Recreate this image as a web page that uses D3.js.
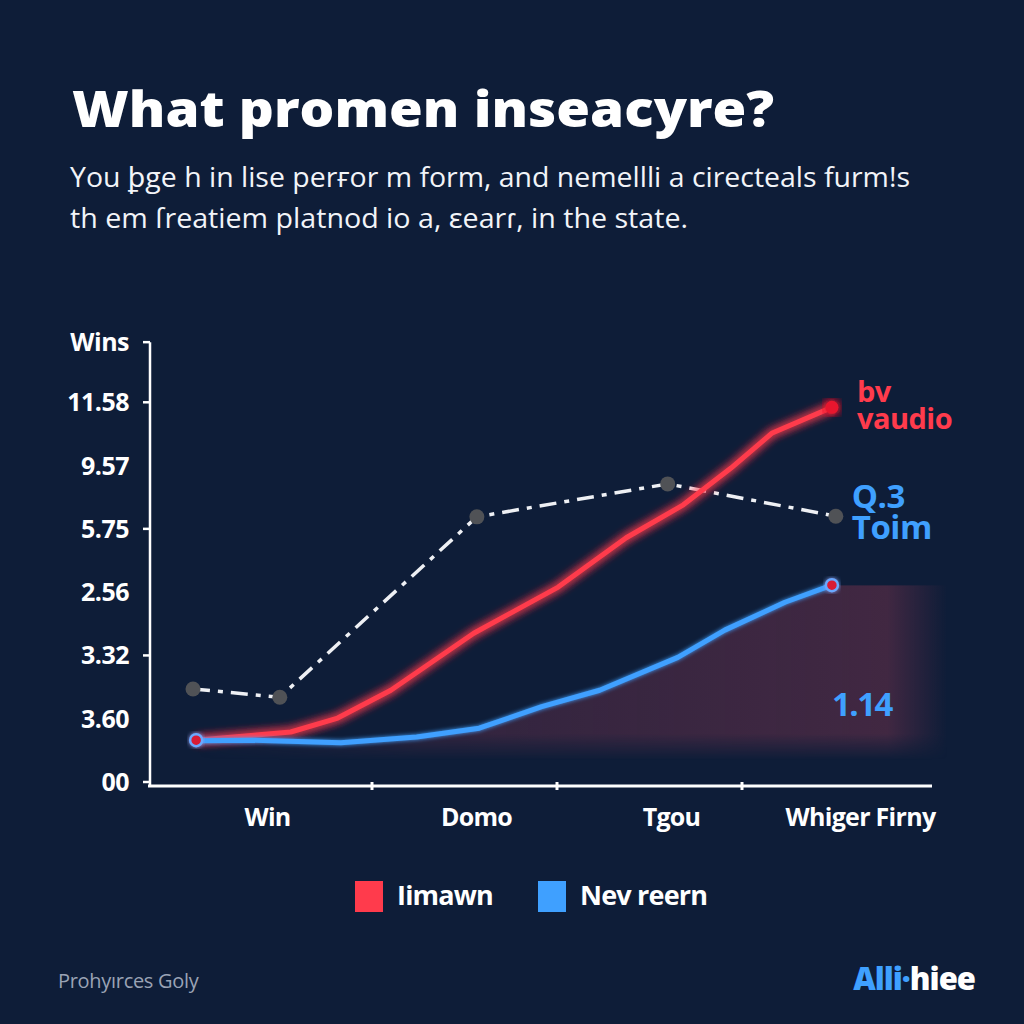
<!DOCTYPE html>
<html><head><meta charset="utf-8">
<script src="https://cdn.jsdelivr.net/npm/d3@7"></script>
<style>
html,body{margin:0;padding:0;background:#0e1d38;}
svg{display:block;}
text{font-family:"Open Sans","Noto Sans",sans-serif;}
</style></head>
<body><svg id="c" width="1024" height="1024"></svg>
<script>
// ---- data ----
const title = "What promen inseacyre?";
const subtitleLines = ["You ꝧge h in lise perғor m form, and nemellli a cirecteals furm!s", "th em ſreatiem platnod io a, ɛearɾ, in the state."];
const yAxisTitle = "Wins";
const yTickLabels = ["00", "3.60", "3.32", "2.56", "5.75", "9.57", "11.58"];
const categories = ["Win", "Domo", "Tgou", "Whiger Firny"];
const legendLabels = ["Iimawn", "Nev reern"];
const redX = [5.9, 18.0, 24.0, 30.8, 41.4, 52.2, 60.9, 68.2, 74.3, 79.5, 87.2];
const redY = [0.66, 0.79, 1.01, 1.45, 2.35, 3.08, 3.86, 4.38, 4.96, 5.51, 5.92];
const blueX = [5.9, 13.4, 24.4, 34.1, 42.1, 50.1, 57.5, 67.5, 73.5, 81.2, 87.2];
const blueY = [0.65, 0.66, 0.62, 0.71, 0.85, 1.19, 1.45, 1.97, 2.40, 2.84, 3.11];
const dashX = [5.5, 16.6, 41.8, 66.2, 87.7];
const dashY = [1.47, 1.34, 4.19, 4.71, 4.20];
const areaBase = 0.35;
const areaEndX = 102;
const redLabel = ["bv", "vaudio"];
const blueLabel = ["Q.3", "Toim"];
const areaLabel = "1.14";
const footerLeft = "Prohyırces Goly";
const brandA = "Alli", brandDot = "·", brandB = "hiee";

// ---- colours ----
const RED = "#ff3b4c", BLUE = "#3fa0ff", BG = "#0e1d38";

const svg = d3.select("#c");
svg.append("rect").attr("width",1024).attr("height",1024).attr("fill",BG);

const defs = svg.append("defs");
const glowR = defs.append("filter").attr("id","glowR").attr("x","-20%").attr("y","-20%").attr("width","140%").attr("height","140%");
glowR.append("feGaussianBlur").attr("in","SourceGraphic").attr("stdDeviation",5).attr("result","b");
const mr = glowR.append("feMerge"); mr.append("feMergeNode").attr("in","b"); mr.append("feMergeNode").attr("in","b"); mr.append("feMergeNode").attr("in","SourceGraphic");
const glowB = defs.append("filter").attr("id","glowB").attr("x","-20%").attr("y","-20%").attr("width","140%").attr("height","140%");
glowB.append("feGaussianBlur").attr("in","SourceGraphic").attr("stdDeviation",2).attr("result","b");
const mb = glowB.append("feMerge"); mb.append("feMergeNode").attr("in","b"); mb.append("feMergeNode").attr("in","SourceGraphic");
const gH = defs.append("linearGradient").attr("id","gH").attr("x1","0").attr("x2","1").attr("y1","0").attr("y2","0");
gH.append("stop").attr("offset","0").attr("stop-color","#4a2a44").attr("stop-opacity",0.0);
gH.append("stop").attr("offset","0.3").attr("stop-color","#4a2a44").attr("stop-opacity",0.6);
gH.append("stop").attr("offset","0.92").attr("stop-color","#4a2a44").attr("stop-opacity",0.85);
gH.append("stop").attr("offset","1").attr("stop-color","#4a2a44").attr("stop-opacity",0.0);
const gV = defs.append("linearGradient").attr("id","gV").attr("x1","0").attr("x2","0").attr("y1","0").attr("y2","1");
gV.append("stop").attr("offset","0").attr("stop-color","#fff").attr("stop-opacity",1);
gV.append("stop").attr("offset","0.85").attr("stop-color","#fff").attr("stop-opacity",1);
gV.append("stop").attr("offset","1").attr("stop-color","#fff").attr("stop-opacity",0);
const mask = defs.append("mask").attr("id","mV").attr("maskContentUnits","objectBoundingBox");
mask.append("rect").attr("width",1).attr("height",1).attr("fill","url(#gV)");

// ---- title ----
svg.append("text").attr("x",72).attr("y",127).attr("fill","#fff").attr("font-size",50).attr("font-weight",800)
  .attr("textLength",702).attr("lengthAdjust","spacingAndGlyphs").text(title);
subtitleLines.forEach((s,i)=>{
  svg.append("text").attr("x",70).attr("y",187+i*41).attr("fill","#f2f4f8").attr("font-size",27).attr("font-weight",400)
    .attr("textLength", i===0?840:618).attr("lengthAdjust","spacingAndGlyphs").text(s);
});

// ---- scales ----
const x = d3.scaleLinear().domain([0,100]).range([150,932]);
const y = d3.scaleLinear().domain([0,7]).range([782,339]);
const xb = d3.scaleBand().domain(categories).range([195,935]);

// ---- area ----
const areaPts = blueX.map((v,i)=>[v,blueY[i]]).concat([[areaEndX, blueY[blueY.length-1]]]);
svg.append("path").datum(areaPts)
  .attr("d", d3.area().x(d=>x(d[0])).y0(y(areaBase)).y1(d=>y(d[1])))
  .attr("fill","url(#gH)").attr("mask","url(#mV)");

// ---- axes ----
const yAxis = svg.append("g");
yAxis.append("line").attr("x1",x(0)).attr("x2",x(0)).attr("y1",y(6.95)).attr("y2",y(0)+4).attr("stroke","#fff").attr("stroke-width",2.5);
yTickLabels.forEach((t,i)=>{
  yAxis.append("text").attr("x",129).attr("y",y(i)+9).attr("text-anchor","end").attr("fill","#fff")
    .attr("font-size",25).attr("font-weight",700).attr("style","letter-spacing:-0.5px").text(t);
  if (i%2===0) yAxis.append("line").attr("x1",x(0)-7).attr("x2",x(0)).attr("y1",y(i)).attr("y2",y(i)).attr("stroke","#fff").attr("stroke-width",2.5);
});
yAxis.append("line").attr("x1",x(0)-7).attr("x2",x(0)).attr("y1",y(6.95)).attr("y2",y(6.95)).attr("stroke","#fff").attr("stroke-width",2.5);
yAxis.append("text").attr("x",129).attr("y",y(6.95)+9).attr("text-anchor","end").attr("fill","#fff")
  .attr("font-size",25).attr("font-weight",700).attr("style","letter-spacing:-0.5px").text(yAxisTitle);

const xAxis = svg.append("g");
const labelShift = [-20, 4, 14, 18];
xAxis.append("line").attr("x1",x(0)-2).attr("x2",x(100)).attr("y1",y(0)+4).attr("y2",y(0)+4).attr("stroke","#fff").attr("stroke-width",3);
categories.forEach((c,i)=>{
  if (i>0) xAxis.append("line").attr("x1",xb(c)-8).attr("x2",xb(c)-8).attr("y1",y(0)).attr("y2",y(0)+8).attr("stroke","#fff").attr("stroke-width",3);
  xAxis.append("text").attr("x",xb(c)+xb.bandwidth()/2 + labelShift[i]).attr("y",826).attr("text-anchor","middle")
    .attr("fill","#fff").attr("font-size",25).attr("font-weight",700).attr("style","letter-spacing:-0.7px").text(c);
});

// ---- lines ----
const line = d3.line().x(d=>x(d[0])).y(d=>y(d[1]));
const redPts = redX.map((v,i)=>[v,redY[i]]);
const bluePts = blueX.map((v,i)=>[v,blueY[i]]);
const dashPts = dashX.map((v,i)=>[v,dashY[i]]);

svg.append("path").datum(dashPts).attr("d",line).attr("fill","none").attr("stroke","#eef0f4").attr("stroke-width",3.5)
  .attr("stroke-dasharray","17,8,5,8");
svg.append("path").datum(redPts).attr("d",line).attr("fill","none").attr("stroke",RED).attr("stroke-width",5)
  .attr("stroke-linejoin","round").attr("filter","url(#glowR)");
svg.append("path").datum(bluePts).attr("d",line).attr("fill","none").attr("stroke",BLUE).attr("stroke-width",5)
  .attr("stroke-linejoin","round").attr("filter","url(#glowB)");

svg.selectAll(".dd").data(dashPts).join("circle").attr("cx",d=>x(d[0])).attr("cy",d=>y(d[1])).attr("r",7.5).attr("fill","#505256");

// endpoints
const rEnd = redPts[redPts.length-1], bEnd = bluePts[bluePts.length-1], start = redPts[0];
svg.append("circle").attr("cx",x(rEnd[0])).attr("cy",y(rEnd[1])).attr("r",6.5).attr("fill","#e8192e").attr("filter","url(#glowR)");
svg.append("circle").attr("cx",x(bEnd[0])).attr("cy",y(bEnd[1])).attr("r",6).attr("fill","#d81a35").attr("stroke","#6aa9ff").attr("stroke-width",2.5).attr("filter","url(#glowB)");
svg.append("circle").attr("cx",x(start[0])).attr("cy",y(start[1])).attr("r",6).attr("fill","#d81a35").attr("stroke","#6aa9ff").attr("stroke-width",2.5).attr("filter","url(#glowB)");

// ---- annotations (multi-line labels as one text element) ----
const rt = svg.append("text").attr("fill",RED).attr("font-size",29).attr("font-weight",700).attr("style","letter-spacing:-0.5px");
redLabel.forEach((t,i)=>rt.append("tspan").attr("x",x(rEnd[0])+25).attr("y",y(rEnd[1])-5+i*27).text(t));
const bt = svg.append("text").attr("fill",BLUE).attr("font-size",33).attr("font-weight",700).attr("style","letter-spacing:-0.5px");
blueLabel.forEach((t,i)=>bt.append("tspan").attr("x",x(dashPts[4][0])+16).attr("y",y(dashPts[4][1])-8+i*31).text(t));
svg.append("text").attr("x",x(bEnd[0])).attr("y",y(1.05)).attr("fill",BLUE).attr("font-size",33).attr("font-weight",700)
  .attr("style","letter-spacing:-1.5px").text(areaLabel);

// ---- legend ----
const lg = svg.append("g");
[[RED,355,397],[BLUE,538,580]].forEach((d,i)=>{
  lg.append("rect").attr("x",d[1]).attr("y",881).attr("width",28).attr("height",31).attr("fill",d[0]);
  lg.append("text").attr("x",d[2]).attr("y",905).attr("fill","#fff").attr("font-size",27).attr("font-weight",700)
    .attr("style","letter-spacing:-0.8px").text(legendLabels[i]);
});

// ---- footer ----
svg.append("text").attr("x",58).attr("y",988).attr("fill","#9aa3b5").attr("font-size",20).attr("font-weight",400)
  .attr("style","letter-spacing:-0.3px").text(footerLeft);
const br = svg.append("text").attr("x",975).attr("y",990).attr("text-anchor","end").attr("font-size",31).attr("font-weight",800)
  .attr("style","letter-spacing:-1px");
br.append("tspan").attr("fill",BLUE).text(brandA);
br.append("tspan").attr("fill",BLUE).text(brandDot);
br.append("tspan").attr("fill","#fff").text(brandB);
</script></body></html>
